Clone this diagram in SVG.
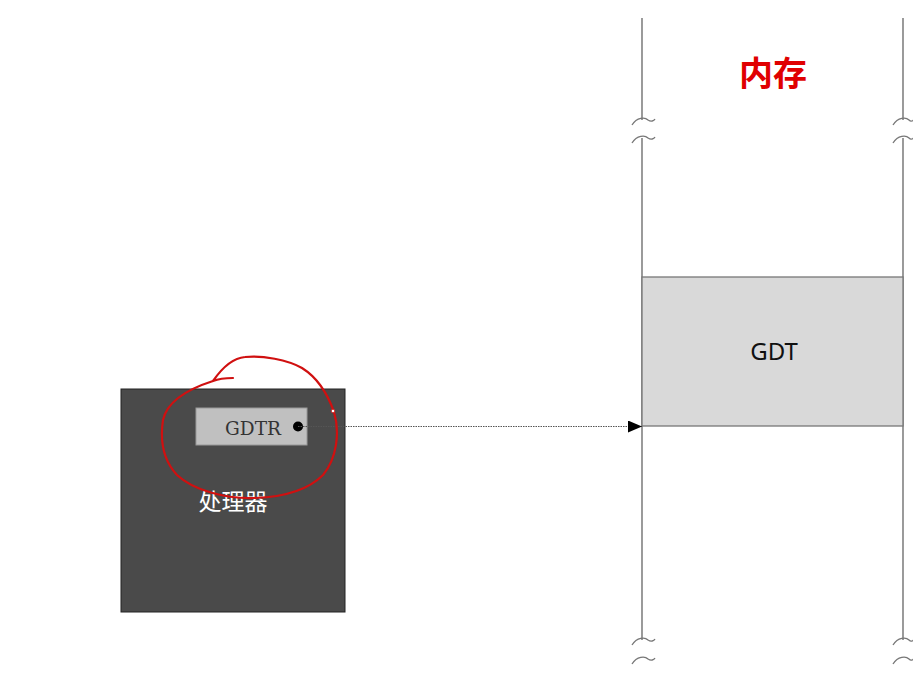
<svg xmlns="http://www.w3.org/2000/svg" width="913" height="673" viewBox="0 0 913 673">
<style>
.mem{stroke:#666;stroke-width:1.3;fill:none}
.wave{stroke:#777;stroke-width:1.3;fill:none}
.cn{font-family:"Noto Sans CJK SC","Noto Sans",sans-serif}
</style>
<defs>
<marker id="arr" markerWidth="14" markerHeight="12" refX="14" refY="6" orient="auto" markerUnits="userSpaceOnUse">
<path d="M0,0 L14,6 L0,12 Z" fill="#000"/>
</marker>
</defs>
<rect width="913" height="673" fill="#fff"/>
<g id="memory">
<path class="mem" d="M642,18 V120 M642,138 V640 M903,18 V120 M903,138 V640"/>
<path class="wave" d="M632,125 C637,117 645,117 648,120 C651,122 654,121 655,119 M632,143 C637,135 645,135 648,138 C651,140 654,139 655,137 M632,645 C637,637 645,637 648,640 C651,642 654,641 655,639 M632,664 C637,656 645,656 648,659 C651,661 654,660 655,658"/>
<path class="wave" d="M893,125 C898,117 906,117 909,120 C911,122 913,121 914,119 M893,143 C898,135 906,135 909,138 C911,140 913,139 914,137 M893,645 C898,637 906,637 909,640 C911,642 913,641 914,639 M893,664 C898,656 906,656 909,659 C911,661 913,660 914,658"/>
<text x="773" y="86" text-anchor="middle" class="cn" font-size="34" font-weight="bold" fill="#e00000">内存</text>
</g>
<g id="gdt">
<rect x="642" y="277" width="261" height="149" fill="#d9d9d9" stroke="#777" stroke-width="1.3"/>
<text x="774" y="360" text-anchor="middle" font-family="Noto Sans, sans-serif" font-size="24" fill="#111">GDT</text>
</g>
<g id="processor">
<rect x="121" y="389" width="224" height="223" fill="#4a4a4a" stroke="#222" stroke-width="1"/>
<text x="233" y="510" text-anchor="middle" class="cn" font-size="23" fill="#fff">处理器</text>
</g>
<g id="gdtr">
<rect x="196" y="408" width="111" height="37" fill="#c0c0c0" stroke="#999" stroke-width="1"/>
<text x="253" y="434.5" text-anchor="middle" font-family="DejaVu Serif, serif" font-size="18.5" fill="#333">GDTR</text>
<circle cx="298" cy="426.5" r="5" fill="#000"/>
</g>
<g id="connectors">
<line x1="298" y1="426.5" x2="642" y2="426.5" stroke="#555" stroke-width="1" stroke-dasharray="1.5,1" marker-end="url(#arr)"/>
</g>
<g id="annotation">
<path d="M233,378 C225,378 218,379 213,381 C222,368 232,358 245,357 C262,355 288,360 302,368 C318,378 328,395 334,412 C340,432 337,458 323,475 C308,490 283,497 255,498 C225,499 193,490 177,475 C163,460 160,440 163,420 C167,402 185,390 213,381" fill="none" stroke="#d01010" stroke-width="2.2" stroke-linecap="round" stroke-linejoin="round"/>
<circle cx="333" cy="411" r="1.8" fill="#fff" stroke="#d01010" stroke-width="0.8"/>
</g>
</svg>
